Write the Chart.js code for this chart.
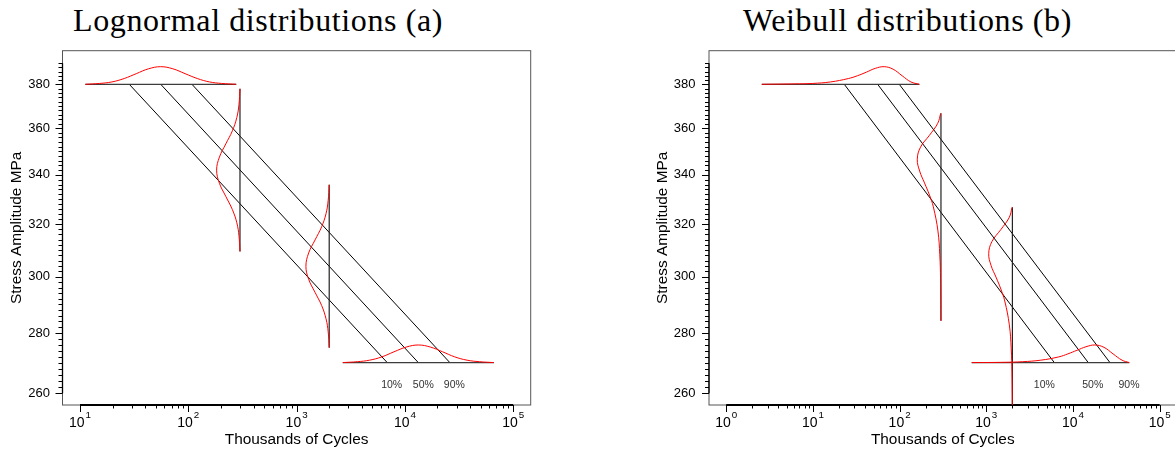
<!DOCTYPE html>
<html>
<head>
<meta charset="utf-8">
<script src="https://cdn.jsdelivr.net/npm/chart.js@4.4.1/dist/chart.umd.min.js"></script>
<style>
  body { margin: 0; background: #fff; overflow: hidden; }
  #wrap { position: relative; width: 1175px; height: 449px; overflow: hidden; }
  .ttl { position: absolute; top: 4px; font-family: 'Liberation Serif', 'Times New Roman', serif;
         font-size: 32px; line-height: 32px; letter-spacing: 0.6px; text-align: center;
         color: #000; white-space: nowrap; }
  canvas { position: absolute; top: 0; }
</style>
</head>
<body>
<div id="wrap">
  <div class="ttl" style="left:0;width:516px">Lognormal distributions (a)</div>
  <div class="ttl" style="left:607px;width:601px">Weibull distributions (b)</div>
  <canvas id="lognormal" width="540" height="449" style="left:0"></canvas>
  <canvas id="weibull" width="535" height="449" style="left:646px"></canvas>
</div>
<script>
// values: N in thousands of cycles, S in MPa
const stressLevels = [380, 270];
const quantileLabels = ['10%', '50%', '90%'];
const labelStress = 262.7;
const yTickValues = [260, 280, 300, 320, 340, 360, 380];

// (a) lognormal
const lnXTicks = [10, 100, 1000, 10000, 100000];
const lnXTickExp = ['1', '2', '3', '4', '5'];
const lnQuantN380 = [28.5, 55.6, 108];
const lnQuantN270 = [6870, 13300, 26000];
const lnRange380 = [11.2, 277];
const lnRange270 = [2670, 66300];
const lnDens380N = [11.2, 15.2, 19.7, 25.6, 33.1, 42.9, 55.6, 72.0, 93.3, 121, 157, 203, 277];
const lnDens380S = [380.0, 380.4, 381.1, 382.7, 385.0, 387.3, 388.3, 387.3, 385.0, 382.7, 381.1, 380.4, 380.0];
const lnDens270N = [2670, 3640, 4720, 6120, 7930, 10300, 13300, 17200, 22300, 28900, 37500, 48600, 66300];
const lnDens270S = [270.0, 270.3, 270.8, 271.9, 273.6, 275.2, 275.9, 275.2, 273.6, 271.9, 270.8, 270.3, 270.0];
const lnCutN = [300, 2000];
const lnCut1S = [309.5, 315.5, 320.6, 325.8, 331.1, 336.5, 342.0, 347.5, 353.2, 358.9, 364.8, 370.7, 377.9];
const lnCut1N = [300, 293.6, 280.5, 255.2, 222.1, 193.8, 182.6, 193.8, 222.1, 255.2, 280.5, 293.6, 300];
const lnCut2S = [275.0, 280.4, 284.9, 289.6, 294.3, 299.1, 303.9, 308.9, 313.9, 319.0, 324.2, 329.5, 335.9];
const lnCut2N = [2000, 1957, 1870, 1703, 1481, 1292, 1219, 1292, 1481, 1703, 1870, 1957, 2000];
const lnLabelN = [7550, 14800, 28600];

// (b) weibull
const wbXTicks = [1, 10, 100, 1000, 10000, 100000];
const wbXTickExp = ['0', '1', '2', '3', '4', '5'];
const wbQuantN380 = [23.0, 55.8, 99.1];
const wbQuantN270 = [6090, 15000, 26700];
const wbRange380 = [2.57, 169];
const wbRange270 = [679, 44600];
const wbDens380N = [2.57, 6.2, 9.97, 16.0, 25.7, 32.6, 41.4, 52.4, 66.5, 84.2, 107, 135, 169];
const wbDens380S = [380.0, 380.2, 380.4, 381.1, 382.7, 384.0, 385.7, 387.5, 388.3, 387.1, 384.0, 381.1, 380.0];
const wbDens270N = [679, 1630, 2630, 4250, 6860, 8720, 11100, 14100, 17900, 22800, 29000, 36800, 44600];
const wbDens270S = [270.0, 270.1, 270.3, 270.8, 271.9, 272.9, 274.1, 275.3, 275.9, 275.1, 272.9, 270.8, 270.0];
const wbCutN = [300, 2000];
const wbCut1S = [284.2, 299.3, 308.2, 317.4, 326.9, 331.7, 336.6, 341.6, 346.6, 351.8, 356.9, 362.2, 366.7];
const wbCut1N = [300, 296.6, 290.9, 276.7, 245.0, 221.0, 194.0, 170.3, 159.9, 174.4, 220.7, 275.1, 298];
const wbCut2S = [253.2, 266.7, 274.6, 282.8, 291.2, 295.5, 299.9, 304.2, 308.7, 313.3, 317.9, 322.6, 326.7];
const wbCut2N = [2000, 1977, 1939, 1844, 1633, 1473, 1293, 1135, 1066, 1163, 1471, 1834, 1985];
const wbLabelN = [4670, 16900, 44300];

const sansFont = "'Liberation Sans', Arial, Helvetica, sans-serif";
Chart.defaults.font.family = sansFont;
Chart.defaults.color = '#000';

function series(N, S, color, width, tension) {
  return {
    data: N.map((n, i) => ({ x: n, y: S[i] })),
    borderColor: color,
    borderWidth: width,
    pointRadius: 0,
    tension: tension || 0,
    fill: false
  };
}

// R-style axes: box, tick marks with minors, 10^k labels, percent labels
const rAxes = {
  id: 'rAxes',
  beforeDatasetsDraw(chart, args, opts) {
    const { ctx, chartArea: a, scales: { x, y } } = chart;
    ctx.save();
    ctx.strokeStyle = '#555';
    ctx.lineWidth = 1;
    ctx.strokeRect(a.left, a.top, a.right - a.left, a.bottom - a.top);

    ctx.strokeStyle = '#000';
    // y axis
    ctx.lineWidth = 1.3;
    ctx.beginPath();
    ctx.moveTo(a.left, y.getPixelForValue(260));
    ctx.lineTo(a.left, y.getPixelForValue(390));
    ctx.stroke();
    ctx.lineWidth = 1;
    ctx.beginPath();
    for (let s = 260; s <= 390; s += 2) {
      const p = Math.round(y.getPixelForValue(s)) + 0.5;
      const len = s % 20 === 0 ? 7 : 4;
      ctx.moveTo(a.left, p);
      ctx.lineTo(a.left - len, p);
    }
    ctx.stroke();

    // x axis
    const xt = opts.xTicks;
    ctx.lineWidth = 2;
    ctx.beginPath();
    ctx.moveTo(x.getPixelForValue(xt[0]), a.bottom);
    ctx.lineTo(x.getPixelForValue(xt[xt.length - 1]), a.bottom);
    ctx.stroke();
    ctx.lineWidth = 1;
    ctx.beginPath();
    xt.forEach((v, k) => {
      const p = Math.round(x.getPixelForValue(v)) + 0.5;
      ctx.moveTo(p, a.bottom);
      ctx.lineTo(p, a.bottom + 7);
      if (k < xt.length - 1) {
        for (let d = 2; d <= 9; d++) {
          const q = Math.round(x.getPixelForValue(v * d)) + 0.5;
          ctx.moveTo(q, a.bottom);
          ctx.lineTo(q, a.bottom + 3.5);
        }
      }
    });
    ctx.stroke();

    // tick labels 10^k with raised exponent
    ctx.fillStyle = '#000';
    ctx.textBaseline = 'alphabetic';
    ctx.textAlign = 'left';
    xt.forEach((v, k) => {
      const p = x.getPixelForValue(v);
      ctx.font = '14px ' + sansFont;
      const wb = ctx.measureText('10').width;
      ctx.font = '9.8px ' + sansFont;
      const we = ctx.measureText(opts.xExp[k]).width;
      const x0 = p - (wb + we + 1) / 2;
      ctx.font = '14px ' + sansFont;
      ctx.fillText('10', x0, a.bottom + 21.7);
      ctx.font = '9.8px ' + sansFont;
      ctx.fillText(opts.xExp[k], x0 + wb + 1, a.bottom + 13);
    });

    // quantile labels
    ctx.fillStyle = '#333';
    ctx.font = '10.5px ' + sansFont;
    ctx.textAlign = 'center';
    ctx.textBaseline = 'middle';
    quantileLabels.forEach((t, i) => {
      ctx.fillText(t, x.getPixelForValue(opts.labelN[i]), y.getPixelForValue(labelStress));
    });
    ctx.restore();
  }
};

function makePanel(id, p) {
  const red = '#ff0000';
  const datasets = [
    series(p.dens380N, p.dens380S, red, 1, 0.4),
    series(p.dens270N, p.dens270S, red, 1, 0.4),
    series(p.cut1N, p.cut1S, red, 1, 0.4),
    series(p.cut2N, p.cut2S, red, 1, 0.4),
    series(p.range380, [stressLevels[0], stressLevels[0]], '#3c3c3c', 1.3),
    series(p.range270, [stressLevels[1], stressLevels[1]], '#3c3c3c', 1.3),
    series([p.cutN[0], p.cutN[0]], [p.cut1S[0], p.cut1S[p.cut1S.length - 1]], '#222', 1.2),
    series([p.cutN[1], p.cutN[1]], [p.cut2S[0], p.cut2S[p.cut2S.length - 1]], '#222', 1.2)
  ];
  for (let i = 0; i < 3; i++) {
    datasets.push(series([p.q380[i], p.q270[i]], stressLevels, '#000', 1));
  }

  new Chart(document.getElementById(id), {
    type: 'line',
    data: { datasets },
    plugins: [rAxes],
    options: {
      responsive: false,
      animation: false,
      layout: { padding: { left: 0, top: 50.7, right: p.padRight, bottom: 0 } },
      plugins: {
        legend: { display: false },
        tooltip: { enabled: false },
        rAxes: { xTicks: p.xTicks, xExp: p.xExp, labelN: p.labelN }
      },
      scales: {
        x: {
          type: 'logarithmic',
          min: p.xMin,
          max: p.xMax,
          bounds: 'data',
          grid: { display: false, drawTicks: false },
          border: { display: false },
          afterBuildTicks: (s) => { s.ticks = p.xTicks.map(v => ({ value: v })); },
          afterFit: (s) => { s.height = 44; },
          ticks: { display: false },
          title: {
            display: true,
            text: 'Thousands of Cycles',
            font: { size: 15.4 },
            padding: { top: 0, bottom: 0 }
          }
        },
        y: {
          type: 'logarithmic',
          min: 256.3,
          max: 396.0,
          bounds: 'data',
          grid: { display: false, drawTicks: false },
          border: { display: false },
          afterBuildTicks: (s) => { s.ticks = yTickValues.map(v => ({ value: v })); },
          afterFit: (s) => { s.width = p.yWidth; },
          ticks: {
            autoSkip: false,
            padding: p.yPad,
            font: { size: 13 },
            callback: (v) => String(v)
          },
          title: {
            display: true,
            text: 'Stress Amplitude MPa',
            font: { size: 15.4 },
            padding: { top: p.yTitlePad, bottom: 0 }
          }
        }
      }
    }
  });
}

makePanel('lognormal', {
  xTicks: lnXTicks, xExp: lnXTickExp, xMin: 6.89, xMax: 145100,
  q380: lnQuantN380, q270: lnQuantN270, range380: lnRange380, range270: lnRange270,
  dens380N: lnDens380N, dens380S: lnDens380S, dens270N: lnDens270N, dens270S: lnDens270S,
  cutN: lnCutN, cut1N: lnCut1N, cut1S: lnCut1S, cut2N: lnCut2N, cut2S: lnCut2S,
  labelN: lnLabelN, padRight: 9.3, yWidth: 62.5, yPad: 12.5, yTitlePad: 7.5
});

makePanel('weibull', {
  xTicks: wbXTicks, xExp: wbXTickExp, xMin: 0.633, xMax: 156300,
  q380: wbQuantN380, q270: wbQuantN270, range380: wbRange380, range270: wbRange270,
  dens380N: wbDens380N, dens380S: wbDens380S, dens270N: wbDens270N, dens270S: wbDens270S,
  cutN: wbCutN, cut1N: wbCut1N, cut1S: wbCut1S, cut2N: wbCut2N, cut2S: wbCut2S,
  labelN: wbLabelN, padRight: 4.5, yWidth: 63, yPad: 13.5, yTitlePad: 8
});
</script>
</body>
</html>
